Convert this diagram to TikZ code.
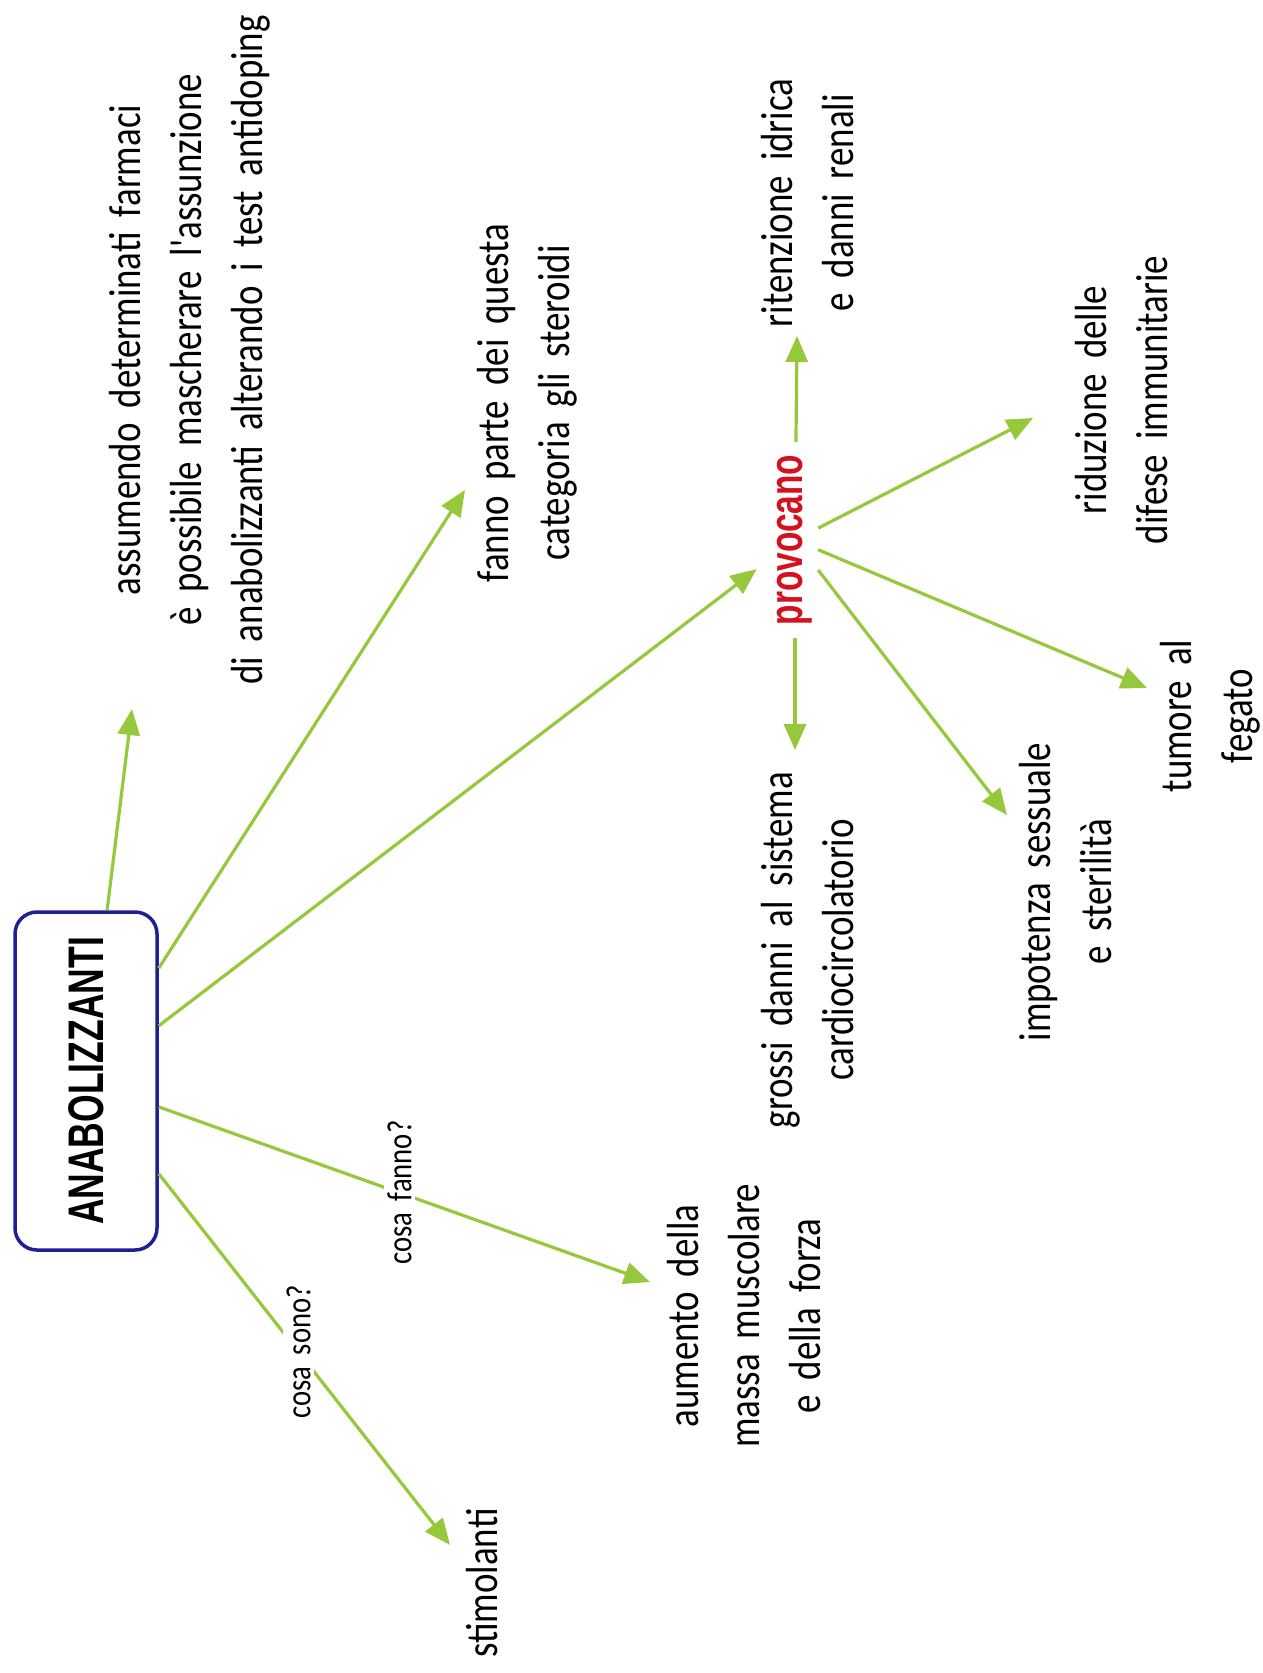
\documentclass[tikz,border=0pt]{standalone}
\usepackage{fontspec}
\usetikzlibrary{arrows.meta,calc}
\newfontfamily\txtfont[FakeStretch=0.82,WordSpace=1.8]{Carlito}
\newfontfamily\anafont[FakeStretch=0.71]{Liberation Sans}
\definecolor{arrgreen}{RGB}{150,200,60}
\definecolor{boxblue}{RGB}{32,32,150}
\definecolor{provred}{RGB}{212,18,30}
\begin{document}
\begin{tikzpicture}[x=1pt,y=-1pt,
  arr/.style={draw=arrgreen, line width=3.2pt, -{Triangle[length=26pt,width=22pt]}, color=arrgreen},
  txt/.style={rotate=90, align=center, inner sep=0pt, text=black, font={\txtfont\fontsize{45}{61}\selectfont}},
  lab/.style={rotate=90, fill=white, text=black, inner sep=3pt, font={\txtfont\fontsize{35}{40}\selectfont}},
]
\useasboundingbox[fill=white] (0,0) rectangle (1263,1673);

% central node
\node[draw=boxblue, line width=3.5pt, rounded corners=22pt, fill=white,
      minimum width=142pt, minimum height=338pt, inner sep=0pt] (box) at (86,1081)
  {\rotatebox{90}{\anafont\bfseries\fontsize{50}{56}\selectfont ANABOLIZZANTI}};

\node[minimum width=46pt, minimum height=196pt, inner sep=0pt] (prov) at (795,540)
  {\rotatebox{90}{\anafont\bfseries\fontsize{47}{52}\selectfont\color{provred}provocano}};

% text nodes
\node[txt] (t1) at (190,350) {assumendo determinati farmaci\\è possibile mascherare l'assunzione\\di anabolizzanti alterando i test antidoping};
\node[txt] (t2) at (527,403) {fanno parte dei questa\\categoria gli steroidi};
\node[txt] (t3) at (808,203) {ritenzione idrica\\e danni renali};
\node[txt] (t4) at (1122,400) {riduzione delle\\difese immunitarie};
\node[txt] (t5) at (1210,716) {tumore al\\fegato};
\node[txt] (t6) at (1066,892) {impotenza sessuale\\e sterilità};
\node[txt] (t7) at (808,950) {grossi danni al sistema\\cardiocircolatorio};
\node[txt] (t8) at (744,1316) {aumento della\\massa muscolare\\e della forza};
\node[txt] (t9) at (482,1583) {stimolanti};

% arrow tips
\coordinate (c1) at (132,709);
\coordinate (c2) at (465,490);
\coordinate (c4) at (650,1282);
\coordinate (c5) at (450,1545);
\coordinate (pu) at (797,336);
\coordinate (pd) at (795,750);
\coordinate (pr) at (1033,418);
\coordinate (pt) at (1147,688);
\coordinate (pi) at (1007,815);

% connectors
\draw[arr] (box) -- (c1);
\draw[arr] (box) -- (c2);
\draw[arr, shorten >=19pt] (box) -- (prov);
\draw[arr] (box) -- node[lab, pos=0.49] {cosa fanno?} (c4);
\draw[arr] (box) -- node[lab, pos=0.48] {cosa sono?} (c5);

\draw[arr] (prov) -- (pu);
\draw[arr] (prov) -- (pd);
\draw[arr] (prov) -- (pr);
\draw[arr] (prov) -- (pt);
\draw[arr] (prov) -- (pi);
\end{tikzpicture}
\end{document}
